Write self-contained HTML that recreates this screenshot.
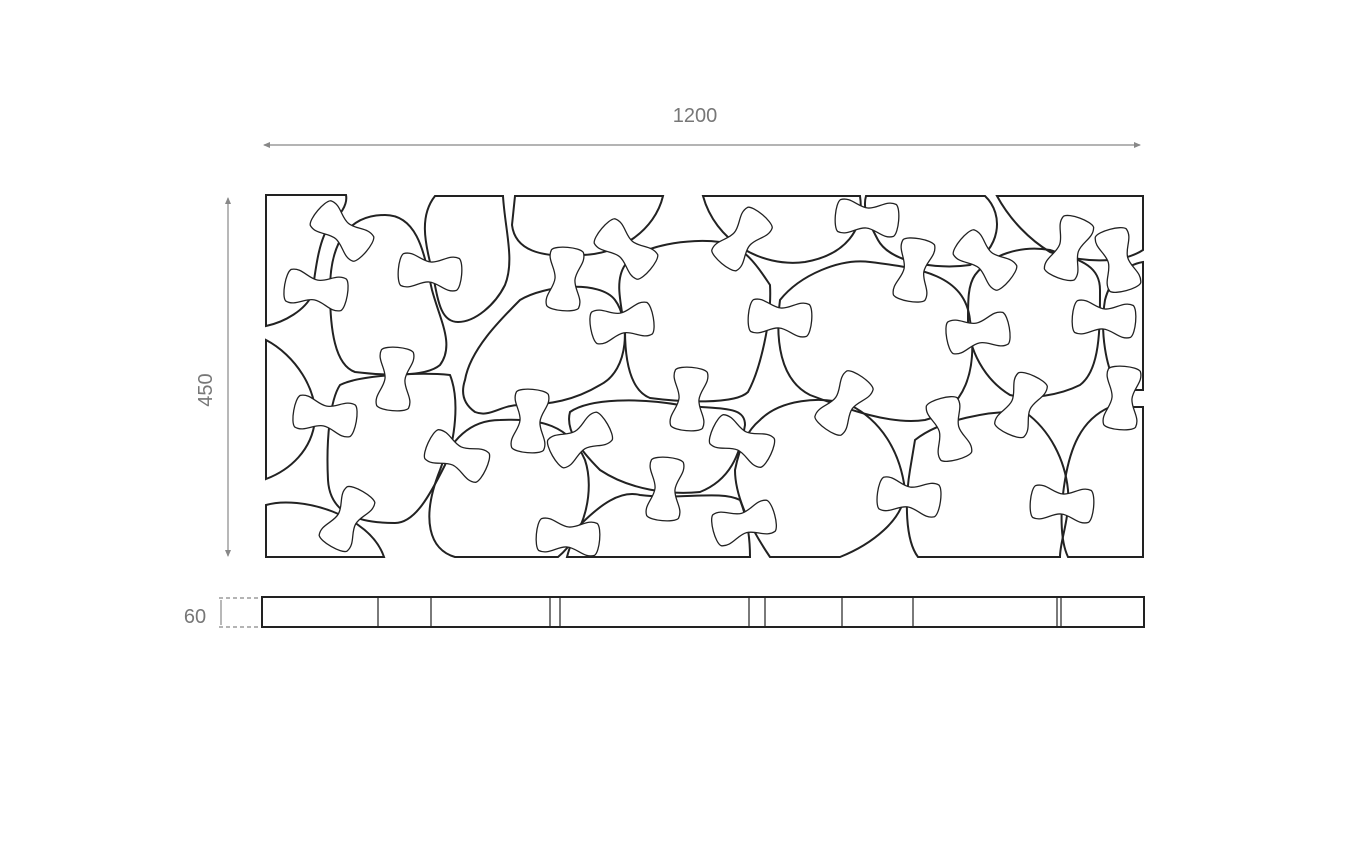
<!DOCTYPE html>
<html><head><meta charset="utf-8"><style>body{margin:0;background:#fff}svg{display:block}</style></head>
<body>
<svg width="1354" height="841" viewBox="0 0 1354 841" xmlns="http://www.w3.org/2000/svg">
<defs>
<path id="b" d="M-28,-16 C-18,-20 -10,-10 0,-10 C10,-10 18,-20 28,-16 C33,-12 33,12 28,16 C18,20 10,10 0,10 C-10,10 -18,20 -28,16 C-33,12 -33,-12 -28,-16Z"/>
</defs>
<text x="695" y="122" font-family="Liberation Sans, sans-serif" font-size="20" fill="#777" text-anchor="middle">1200</text>
<g stroke="#888" stroke-width="1.2" fill="#888">
<line x1="264" y1="145" x2="1140" y2="145"/>
<path d="M263,145 l7,-3 v6z M1141,145 l-7,-3 v6z" stroke="none"/>
<line x1="228" y1="198" x2="228" y2="556"/>
<path d="M228,197 l-3,7 h6z M228,557 l-3,-7 h6z" stroke="none"/>
</g>
<text transform="translate(212,390) rotate(-90)" font-family="Liberation Sans, sans-serif" font-size="20" fill="#777" text-anchor="middle">450</text>
<g fill="none" stroke="#222" stroke-width="2">
<path d="M266,195 L346,195 C348,205 340,215 330,225 C318,240 315,275 312,295 C305,310 285,322 266,326 Z"/>
<path d="M266,340 C295,355 318,390 315,420 C312,450 290,470 266,479 Z"/>
<path d="M266,505 C300,495 370,515 384,557 L266,557 Z"/>
<path d="M330,290 C330,240 350,215 385,215 C420,215 425,260 432,290 C440,320 455,345 440,365 C425,378 380,375 355,372 C335,365 330,330 330,290Z"/>
<path d="M435,196 L503,196 C505,230 515,260 505,285 C495,305 475,322 458,322 C440,322 438,300 432,270 C424,240 420,215 435,196Z"/>
<path d="M340,385 C360,375 420,372 450,375 C460,400 455,440 445,465 C430,495 415,523 395,523 C360,523 330,515 328,480 C326,440 330,400 340,385Z"/>
<path d="M465,380 C470,350 500,320 520,300 C545,285 600,280 615,300 C630,320 630,370 600,385 C575,400 550,405 520,405 C500,405 490,418 475,412 C465,405 460,395 465,380Z"/>
<path d="M515,196 L663,196 C655,230 620,255 580,255 C540,258 515,250 512,225 Z"/>
<path d="M625,265 C640,245 690,238 720,242 C745,245 760,270 770,285 C772,320 760,370 748,392 C735,405 680,402 650,398 C630,390 625,360 625,330 C620,300 615,280 625,265Z"/>
<path d="M440,470 C450,440 470,420 500,420 C540,418 570,425 585,460 C595,490 585,535 558,557 L455,557 C430,550 420,520 440,470Z"/>
<path d="M570,412 C590,398 640,398 680,405 C720,410 745,405 745,425 C740,455 730,480 700,492 C670,495 630,490 600,470 C580,450 565,430 570,412Z"/>
<path d="M580,525 C600,505 620,490 640,495 C680,500 720,490 740,500 C748,520 750,540 750,557 L567,557 C570,545 575,535 580,525Z"/>
<path d="M703,196 L860,196 C865,230 845,255 805,262 C760,268 715,240 703,196Z"/>
<path d="M780,300 C800,275 840,258 870,262 C920,268 965,275 970,320 C978,370 965,410 925,420 C890,425 850,410 810,395 C780,380 775,340 780,300Z"/>
<path d="M866,196 L985,196 C1005,215 1000,250 970,265 C935,270 890,262 878,240 C870,225 862,210 866,196Z"/>
<path d="M760,420 C780,400 820,395 850,405 C880,420 900,450 905,490 C905,520 870,545 840,557 L770,557 C755,535 735,500 735,470 C740,445 748,430 760,420Z"/>
<path d="M997,196 L1143,196 L1143,250 C1120,265 1080,262 1050,252 C1030,240 1010,220 997,196Z"/>
<path d="M975,275 C990,255 1020,245 1050,250 C1080,260 1100,265 1100,290 C1100,330 1100,370 1080,385 C1060,395 1030,400 1010,395 C985,380 968,350 968,320 C968,300 968,285 975,275Z"/>
<path d="M1143,262 L1143,390 L1120,390 C1105,370 1100,330 1105,300 C1110,280 1125,265 1143,262Z"/>
<path d="M915,440 C940,420 990,410 1025,412 C1050,430 1065,460 1068,490 C1070,520 1060,540 1060,557 L918,557 C905,540 905,500 910,470 Z"/>
<path d="M1143,407 L1143,557 L1068,557 C1060,540 1060,510 1065,480 C1070,450 1080,420 1110,407 Z"/>
</g>
<g fill="#fff" stroke="#222" stroke-width="1.3">
<use href="#b" transform="translate(342,231) rotate(40)"/>
<use href="#b" transform="translate(316,290) rotate(10)"/>
<use href="#b" transform="translate(430,272) rotate(5)"/>
<use href="#b" transform="translate(395,379) rotate(95)"/>
<use href="#b" transform="translate(325,416) rotate(10)"/>
<use href="#b" transform="translate(457,456) rotate(25)"/>
<use href="#b" transform="translate(347,519) rotate(-60)"/>
<use href="#b" transform="translate(565,279) rotate(95)"/>
<use href="#b" transform="translate(626,249) rotate(40)"/>
<use href="#b" transform="translate(622,323) rotate(-10)"/>
<use href="#b" transform="translate(530,421) rotate(95)"/>
<use href="#b" transform="translate(580,440) rotate(-30)"/>
<use href="#b" transform="translate(689,399) rotate(95)"/>
<use href="#b" transform="translate(665,489) rotate(95)"/>
<use href="#b" transform="translate(568,537) rotate(5)"/>
<use href="#b" transform="translate(742,239) rotate(-50)"/>
<use href="#b" transform="translate(780,318) rotate(5)"/>
<use href="#b" transform="translate(742,441) rotate(25)"/>
<use href="#b" transform="translate(744,523) rotate(-15)"/>
<use href="#b" transform="translate(867,218) rotate(5)"/>
<use href="#b" transform="translate(844,403) rotate(-55)"/>
<use href="#b" transform="translate(914,270) rotate(-80)"/>
<use href="#b" transform="translate(985,260) rotate(40)"/>
<use href="#b" transform="translate(978,333) rotate(-10)"/>
<use href="#b" transform="translate(949,429) rotate(75)"/>
<use href="#b" transform="translate(909,497) rotate(8)"/>
<use href="#b" transform="translate(1069,248) rotate(-70)"/>
<use href="#b" transform="translate(1118,260) rotate(75)"/>
<use href="#b" transform="translate(1104,319) rotate(5)"/>
<use href="#b" transform="translate(1021,405) rotate(-65)"/>
<use href="#b" transform="translate(1122,398) rotate(95)"/>
<use href="#b" transform="translate(1062,504) rotate(5)"/>
</g>
<rect x="262" y="597" width="882" height="30" fill="none" stroke="#222" stroke-width="2"/>
<g stroke="#222" stroke-width="1.2">
<line x1="378" y1="597" x2="378" y2="627"/><line x1="431" y1="597" x2="431" y2="627"/>
<line x1="550" y1="597" x2="550" y2="627"/><line x1="560" y1="597" x2="560" y2="627"/>
<line x1="749" y1="597" x2="749" y2="627"/><line x1="765" y1="597" x2="765" y2="627"/>
<line x1="842" y1="597" x2="842" y2="627"/><line x1="913" y1="597" x2="913" y2="627"/>
<line x1="1057" y1="597" x2="1057" y2="627"/><line x1="1061" y1="597" x2="1061" y2="627"/>
</g>
<g stroke="#888" stroke-width="1.2" stroke-dasharray="4,3" fill="none">
<line x1="219" y1="598" x2="259" y2="598"/><line x1="219" y1="627" x2="259" y2="627"/>
</g>
<line x1="221" y1="600" x2="221" y2="625" stroke="#888" stroke-width="1.2"/>
<text x="195" y="623" font-family="Liberation Sans, sans-serif" font-size="20" fill="#777" text-anchor="middle">60</text>
</svg>
</body></html>
